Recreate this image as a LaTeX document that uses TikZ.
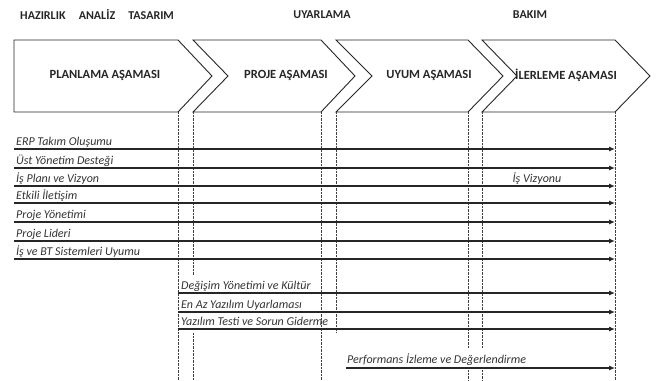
\documentclass[tikz,border=0pt]{standalone}
\usepackage{fontspec}
\setmainfont{Carlito}
\usetikzlibrary{arrows.meta}
\begin{document}
\begin{tikzpicture}[x=1pt,y=-1pt,
  chev/.style={draw=black!85,line width=0.9pt,fill=white,line join=miter},
  phase/.style={font=\bfseries\fontsize{12.5}{14}\selectfont,text=black!85,inner sep=0pt},
  head/.style={font=\bfseries\fontsize{12}{14}\selectfont,text=black!85,inner sep=0pt},
  lbl/.style={font=\itshape\fontsize{12}{14}\selectfont,text=black!80,anchor=base west,inner sep=1pt},
  bar/.style={draw=black!85,line width=1.1pt,-{Latex[length=6pt,width=5pt]}},
  guide/.style={draw=black!75,line width=0.7pt,dash pattern=on 0.7pt off 0.7pt}]
\useasboundingbox (0,0) rectangle (660,380);
% header
\node[head,anchor=west] (h1) at (20,15) {HAZIRLIK\hspace{1.1em}ANALİZ\hspace{1.1em}TASARIM};
\node[head] (h2) at (322,15) {UYARLAMA};
\node[head] (h3) at (530,15) {BAKIM};
% guides
\draw[guide] (178,112) -- (178,380);
\draw[guide] (193,112) -- (193,275);
\draw[guide] (193,333) -- (193,380);
\draw[guide] (321,112) -- (321,380);
\draw[guide] (336,112) -- (336,332);
\draw[guide] (468,112) -- (468,348);
\draw[guide] (468,370) -- (468,380);
\draw[guide] (482,112) -- (482,348);
\draw[guide] (482,370) -- (482,380);
\draw[guide] (615,112) -- (615,380);
% chevrons
\draw[chev] (14,40) -- (178,40) -- (212,76) -- (178,112) -- (14,112) -- cycle;
\draw[chev] (193,40) -- (321,40) -- (355,76) -- (321,112) -- (193,112) -- (228,76) -- cycle;
\draw[chev] (336,40) -- (468,40) -- (503,76) -- (468,112) -- (336,112) -- (372,76) -- cycle;
\draw[chev] (482,40) -- (615,40) -- (650,76) -- (615,112) -- (482,112) -- (517,76) -- cycle;
\node[phase] (p1) at (105,75) {PLANLAMA AŞAMASI};
\node[phase] (p2) at (286,75) {PROJE AŞAMASI};
\node[phase] (p3) at (429,75) {UYUM AŞAMASI};
\node[phase] (p4) at (566,75) {İLERLEME AŞAMASI};
% bars
\foreach \y/\t [count=\i] in {149/ERP Takım Oluşumu,168/Üst Yönetim Desteği,186/İş Planı ve Vizyon,203/Etkili İletişim,222/Proje Yönetimi,241/Proje Lideri,259/İş ve BT Sistemleri Uyumu}{
  \coordinate (a\i) at (14,\y);
  \coordinate (b\i) at (615,\y);
  \draw[bar] (a\i) -- (b\i);
  \node[lbl] (l\i) at (15,\y-4) {\t};
}
\node[font=\itshape\fontsize{12}{14}\selectfont,text=black!80,inner sep=1pt] (v) at (537,179) {İş Vizyonu};
\foreach \y/\t [count=\i] in {293/Değişim Yönetimi ve Kültür,312/En Az Yazılım Uyarlaması,329/Yazılım Testi ve Sorun Giderme}{
  \coordinate (c\i) at (178,\y);
  \coordinate (d\i) at (615,\y);
  \draw[bar] (c\i) -- (d\i);
  \node[lbl] (m\i) at (180,\y-4) {\t};
}
\coordinate (e1) at (346,368);
\coordinate (f1) at (615,368);
\draw[bar] (e1) -- (f1);
\node[lbl] (n1) at (346,363) {Performans İzleme ve Değerlendirme};
\end{tikzpicture}
\end{document}
